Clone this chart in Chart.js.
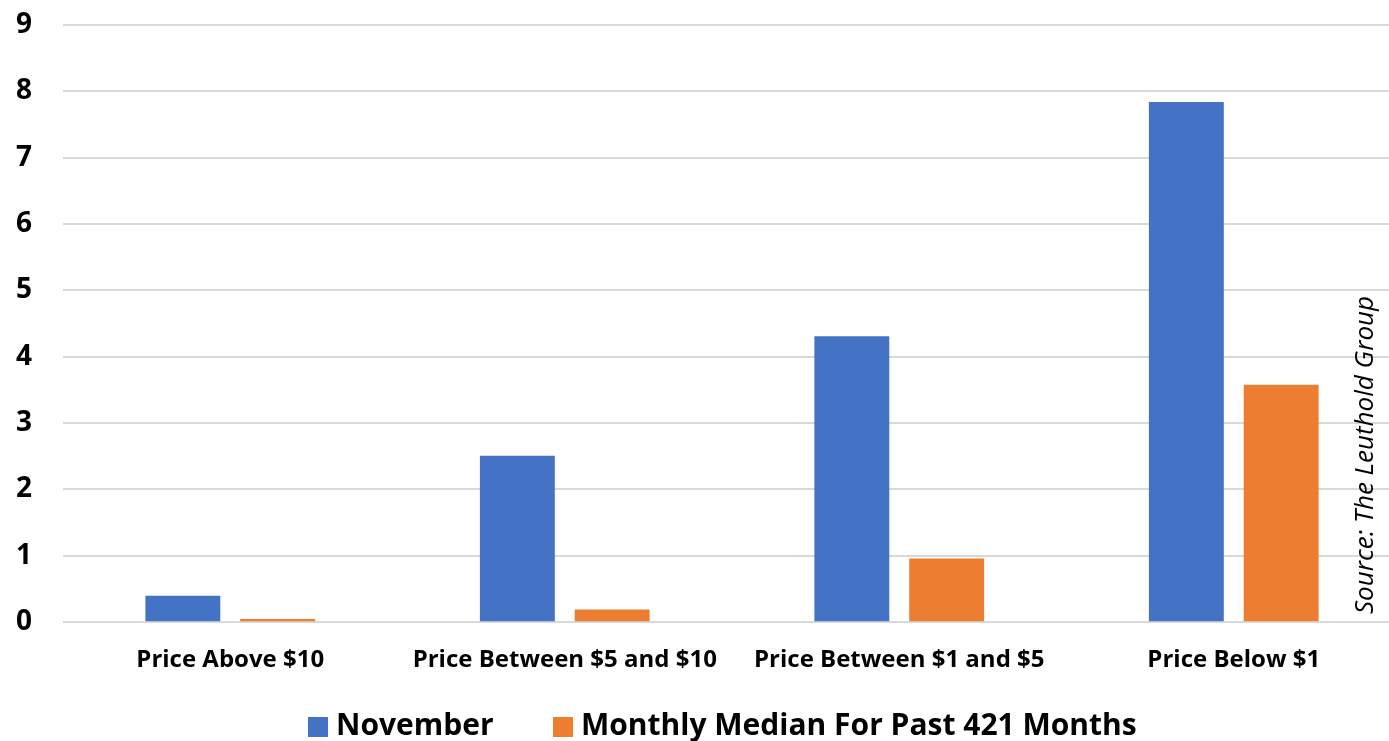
<!DOCTYPE html>
<html>
<head>
<meta charset="utf-8">
<script src="https://cdn.jsdelivr.net/npm/chart.js@4.4.1/dist/chart.umd.min.js"></script>
<style>
  html, body { margin: 0; padding: 0; background: #ffffff; overflow: hidden; }
  /* plot runs slightly past the right edge of the window */
  #wrap { width: 1401px; height: 741px; position: relative; }
</style>
</head>
<body>
<div id="wrap"><canvas id="chart"></canvas></div>
<script>
// Price buckets along the x axis
const categories = ['Price Above $10', 'Price Between $5 and $10', 'Price Between $1 and $5', 'Price Below $1'];
// November returns per bucket
const novemberValues = [0.40, 2.51, 4.31, 7.84];
// Monthly median over the past 421 months
const medianValues = [0.05, 0.19, 0.96, 3.58];
// Y axis ticks
const yTicks = [0, 1, 2, 3, 4, 5, 6, 7, 8, 9];
const seriesNames = ['November', 'Monthly Median For Past 421 Months'];
const seriesColors = ['#4472C4', '#ED7D31'];
const sourceNote = 'Source: The Leuthold Group';

const FONT = '"Open Sans", Lato, sans-serif';

// Rotated source note on the right edge of the plot
const sourceLabel = {
  id: 'sourceLabel',
  afterDraw(chart) {
    const ctx = chart.ctx;
    ctx.save();
    ctx.translate(1366, 455);
    ctx.rotate(-Math.PI / 2);
    ctx.font = 'italic 26px ' + FONT;
    ctx.fillStyle = '#000000';
    ctx.textAlign = 'center';
    ctx.textBaseline = 'middle';
    ctx.fillText(sourceNote, 0, 0);
    ctx.restore();
  }
};

// Bottom legend with wide spacing between the two entries
const bottomLegend = {
  id: 'bottomLegend',
  afterDraw(chart) {
    const ctx = chart.ctx;
    const boxX = [308, 553];
    ctx.save();
    ctx.font = 'bold 30px ' + FONT;
    ctx.textBaseline = 'middle';
    ctx.textAlign = 'left';
    chart.data.datasets.forEach((ds, i) => {
      ctx.fillStyle = ds.backgroundColor;
      ctx.fillRect(boxX[i], 717, 20, 20);
      ctx.fillStyle = '#000000';
      ctx.fillText(ds.label, boxX[i] + 28, 726);
    });
    ctx.restore();
  }
};

new Chart(document.getElementById('chart'), {
  type: 'bar',
  data: {
    labels: categories,
    datasets: [
      { label: seriesNames[0], data: novemberValues, backgroundColor: seriesColors[0],
        categoryPercentage: 0.567, barPercentage: 0.79 },
      { label: seriesNames[1], data: medianValues, backgroundColor: seriesColors[1],
        categoryPercentage: 0.567, barPercentage: 0.79 }
    ]
  },
  options: {
    responsive: true,
    maintainAspectRatio: false,
    animation: false,
    layout: { padding: { top: 25, right: 0, left: -15, bottom: 42 } },
    plugins: {
      legend: { display: false },
      tooltip: { enabled: false }
    },
    scales: {
      x: {
        grid: { display: false, drawTicks: false },
        border: { display: false },
        ticks: {
          color: '#000000',
          font: { family: FONT, size: 24, weight: 'bold' },
          padding: 24,
          maxRotation: 0
        }
      },
      y: {
        min: 0, max: 9,
        afterBuildTicks(axis) { axis.ticks = yTicks.map(v => ({ value: v })); },
        afterFit(axis) { axis.paddingTop = 0; axis.paddingBottom = 0; },
        grid: { color: '#d9d9d9', lineWidth: 2, drawTicks: false },
        border: { display: false },
        ticks: {
          color: '#000000',
          font: { family: FONT, size: 28, weight: 'bold' },
          padding: 31
        }
      }
    }
  },
  plugins: [sourceLabel, bottomLegend]
});
</script>
</body>
</html>
